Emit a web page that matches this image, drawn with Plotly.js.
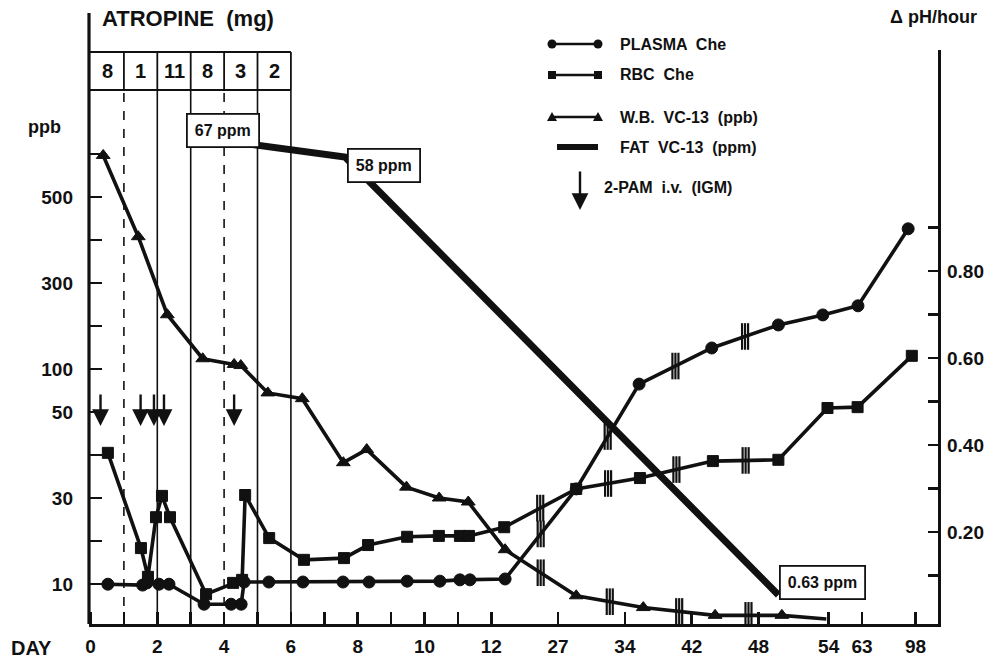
<!DOCTYPE html>
<html><head><meta charset="utf-8">
<script src="https://cdn.plot.ly/plotly-3.0.1.min.js"></script>
<style>html,body{margin:0;padding:0;background:#fff}#chart{width:994px;height:663px}</style>
</head><body><div id="chart"></div>
<script>
// ---------------- Data ----------------
const plasmaDay = [0.52,1.56,1.69,2.05,2.35,3.40,4.21,4.51,4.60,5.34,6.36,7.56,8.34,9.48,10.46,11.06,11.36,15.1,28.9,35.7,43.8,49.7,53.5,61.9,93.2];
const plasmaPH  = [0.080,0.078,0.083,0.080,0.080,0.034,0.034,0.034,0.085,0.085,0.085,0.085,0.085,0.087,0.087,0.090,0.090,0.092,0.299,0.540,0.623,0.676,0.699,0.720,0.897];
const rbcDay = [0.52,1.51,1.72,1.96,2.14,2.38,3.46,4.27,4.54,4.63,5.35,6.39,7.59,8.31,9.48,10.43,11.06,11.33,14.9,28.9,35.8,43.9,49.7,53.9,61.8,95.6];
const rbcPH  = [0.382,0.163,0.097,0.234,0.283,0.234,0.057,0.083,0.090,0.285,0.186,0.136,0.140,0.170,0.189,0.191,0.191,0.191,0.211,0.299,0.324,0.363,0.366,0.485,0.487,0.605];
const wbDay = [0.38,1.43,2.30,3.36,4.30,4.50,5.31,6.34,7.57,8.27,9.46,10.44,11.31,15.1,28.9,36.2,44.1,50.0,53.8];
const wbPpb = [640,395,200,114,106,104.5,68,62,37,40,32,30,28.5,15.5,8.6,7.4,6.7,6.7,6.4];
const fatDay = [4.51,7.62,49.7];
const fatPpm = [67,58,0.63];
const pamDays = [0.3,1.5,1.9,2.2,4.3];
const atropineMg = [8,1,11,8,3,2];
const dayTickLabels = [0,2,4,6,8,10,12,27,34,42,48,54,63,98];
const ppbTickLabels = [10,30,50,100,300,500];
const phTickLabels = [0.20,0.40,0.60,0.80];
const legendNames = ['PLASMA  Che','RBC  Che','W.B.  VC-13  (ppb)','FAT  VC-13  (ppm)','2-PAM  i.v.  (IGM)'];

// ---------------- Broken-axis definitions ----------------
const breakDays = [0,12,27,34,42,48,54,63,98];
const breakPos  = [0,12,14,16,18,20,22.1,23.1,24.7];
const ppbScalePos = [0,2,4,5,7,9];

function interp(v, xs, ys){
  let i = 0;
  if (v <= xs[0]) i = 0;
  else if (v >= xs[xs.length-1]) i = xs.length-2;
  else { while (v > xs[i+1]) i++; }
  const t = (v - xs[i])/(xs[i+1]-xs[i]);
  return ys[i] + t*(ys[i+1]-ys[i]);
}
const dayToPos = d => interp(d, breakDays, breakPos);
const ppbToPos = v => interp(Math.log(v), ppbTickLabels.map(Math.log), ppbScalePos);

// ---------------- Layout geometry helpers ----------------
const L = 89, T = 50, W = 849, H = 574;
const XR = [-0.045, 25.374];
const px2x = px => (px - L)/W;
const py2y = py => (T + H - py)/H;

const FONT = 'Liberation Sans, Arial, Helvetica, sans-serif';
const INK = '#111';

// ---------------- Traces ----------------
const lineW = 3.6;
const mline = {color:INK,width:1};
const traces = [];
traces.push({x: wbDay.map(dayToPos), y: wbPpb.map(ppbToPos), yaxis:'y', mode:'lines+markers',
  line:{color:INK,width:lineW}, marker:{symbol:'triangle-up',size:wbDay.map((d,i)=>i===wbDay.length-1?0:12),color:INK,opacity:1,line:mline}, showlegend:false, hoverinfo:'skip'});
traces.push({x: rbcDay.map(dayToPos), y: rbcPH, yaxis:'y2', mode:'lines+markers',
  line:{color:INK,width:lineW}, marker:{symbol:'square',size:11,color:INK,opacity:1,line:mline}, showlegend:false, hoverinfo:'skip'});
traces.push({x: plasmaDay.map(dayToPos), y: plasmaPH, yaxis:'y2', mode:'lines+markers',
  line:{color:INK,width:lineW}, marker:{symbol:'circle',size:12,color:INK,opacity:1,line:mline}, showlegend:false, hoverinfo:'skip'});
traces.push({x: fatDay.map(dayToPos), y: fatPpm, yaxis:'y3', mode:'lines',
  line:{color:INK,width:7}, showlegend:false, hoverinfo:'skip'});

// break marks (|||) on segments inside the compressed part of the time axis
function breakMarks(days, vals, conv, axis){
  const xs=[], ys=[];
  for (let i=0;i<days.length-1;i++){
    const a = dayToPos(days[i]), b = dayToPos(days[i+1]);
    if (a > 12 && b < 21){
      const m = (a+b)/2, v = (conv(vals[i])+conv(vals[i+1]))/2;
      [-0.09,0,0.09].forEach(o=>{xs.push(m+o); ys.push(v);});
    }
  }
  return {x:xs,y:ys,yaxis:axis,mode:'markers',marker:{symbol:'line-ns',size:19,opacity:1,line:{color:INK,width:2.2}},showlegend:false,hoverinfo:'skip'};
}
traces.push(breakMarks(plasmaDay, plasmaPH, v=>v, 'y2'));
traces.push(breakMarks(rbcDay, rbcPH, v=>v, 'y2'));
traces.push(breakMarks(wbDay, wbPpb, ppbToPos, 'y'));

// ---------------- Axes ----------------
const xTickVals = [], xTickText = [];
for (let d=0; d<=12; d++){ xTickVals.push(d); xTickText.push(d%2===0 ? String(d) : ''); }
dayTickLabels.filter(d=>d>12).forEach(d=>{ xTickVals.push(dayToPos(d)); xTickText.push(String(d)); });

const yTickVals = [], yTickText = [];
for (let k=0;k<=10;k++){
  yTickVals.push(k);
  const j = ppbScalePos.indexOf(k);
  yTickText.push(j>=0 ? String(ppbTickLabels[j]) : '');
}
const y2TickVals = [0.1,0.2,0.3,0.4,0.5,0.6,0.7,0.8,0.9];
const y2TickText = y2TickVals.map(v => phTickLabels.some(p=>Math.abs(p-v)<1e-9) ? v.toFixed(2) : '');

const tickFont = {family:FONT,size:19,color:INK,weight:'bold'};

// ---------------- Shapes ----------------
const shapes = [];
shapes.push({type:'line',xref:'paper',yref:'paper',x0:0,x1:0,y0:0,y1:py2y(13),line:{color:INK,width:3.2}});
const tTop = py2y(52), tBot = py2y(90);
shapes.push({type:'line',xref:'x',yref:'paper',x0:XR[0],x1:6,y0:tTop,y1:tTop,line:{color:INK,width:2}});
shapes.push({type:'line',xref:'x',yref:'paper',x0:XR[0],x1:6,y0:tBot,y1:tBot,line:{color:INK,width:2}});
const dashDays = [1,4];
for (let d=1; d<=6; d++){
  const dashed = dashDays.includes(d);
  shapes.push({type:'line',xref:'x',yref:'paper',x0:d,x1:d,y0:tBot,y1:tTop,line:{color:INK,width:1.8}});
  shapes.push({type:'line',xref:'x',yref:'paper',x0:d,x1:d,y0:0,y1:tBot,line:{color:INK,width:1.6,dash:dashed?'dash':'solid'}});
}
// legend symbols
const legRows = [44,75,117,147];
const lx0 = px2x(552), lx1 = px2x(598);
legRows.forEach((ry,i)=>{
  const yy = py2y(ry);
  shapes.push({type:'line',xref:'paper',yref:'paper',x0:i===3?px2x(557):lx0,x1:lx1,y0:yy,y1:yy,line:{color:INK,width:i===3?6:2.4}});
  if (i<3){
    [lx0,lx1].forEach(xx=>{
      const base = {xref:'paper',yref:'paper',xsizemode:'pixel',ysizemode:'pixel',xanchor:xx,yanchor:yy,fillcolor:INK,line:{color:INK,width:0}};
      if (i===0) shapes.push(Object.assign({type:'circle',x0:-4.5,x1:4.5,y0:-4.5,y1:4.5},base));
      if (i===1) shapes.push(Object.assign({type:'rect',x0:-4,x1:4,y0:-4,y1:4},base));
      if (i===2) shapes.push(Object.assign({type:'path',path:'M -5 -4 L 5 -4 L 0 5 Z'},base));
    });
  }
});

// ---------------- Annotations ----------------
const ann = [];
const txt = (text,x,y,size,opts) => Object.assign({text:text,x:x,y:y,xref:'paper',yref:'paper',showarrow:false,
  xanchor:'center',yanchor:'middle',
  font:{family:FONT,size:size,color:INK,weight:'bold'}},opts||{});
ann.push(txt('ATROPINE  (mg)', px2x(188), py2y(18), 22));
ann.push(txt('ppb', px2x(44), py2y(127), 18));
ann.push(txt('\u0394 pH/hour', px2x(933), py2y(17), 18));
ann.push(txt('DAY', px2x(31), py2y(648), 20));
atropineMg.forEach((m,i)=>{
  ann.push(Object.assign(txt(String(m), i+0.5, py2y(71), 20), {xref:'x'}));
});
legendNames.forEach((n,i)=>{
  const ry = [44,75,117,147,187][i];
  const lx = i===4 ? px2x(602) : px2x(618);
  ann.push(txt(n, lx, py2y(ry), 16, {xanchor:'left'}));
});
ann.push({x:px2x(580),y:py2y(210),xref:'paper',yref:'paper',text:'',showarrow:true,ax:0,ay:-40,
  arrowhead:2,arrowsize:1.4,arrowwidth:2.4,arrowcolor:INK,standoff:0});
pamDays.forEach(d=>{
  ann.push({x:dayToPos(d),y:py2y(426),xref:'x',yref:'paper',text:'',showarrow:true,ax:0,ay:-33,
    arrowhead:2,arrowsize:1.4,arrowwidth:2.4,arrowcolor:INK,standoff:0});
});
const boxPos = [[223,131],[384,165],[822,582]];
fatPpm.forEach((v,i)=>{
  ann.push(txt(v+' ppm', px2x(boxPos[i][0]), py2y(boxPos[i][1]), 16,
    {bordercolor:INK,borderwidth:1.8,borderpad:7,bgcolor:'#fff'}));
});

const layout = {
  width:994, height:663,
  margin:{l:L, r:994-L-W, t:T, b:663-T-H, pad:0},
  paper_bgcolor:'#fff', plot_bgcolor:'#fff',
  showlegend:false,
  xaxis:{range:XR, showgrid:false, zeroline:false, showline:true, linecolor:INK, linewidth:3.2,
    ticks:'inside', ticklen:12, tickwidth:2.5, tickcolor:INK, tickvals:xTickVals, ticktext:xTickText,
    tickfont:tickFont, ticklabelstandoff:3, fixedrange:true},
  yaxis:{range:[(584-624)/43,(584-50)/43], showgrid:false, zeroline:false, showline:false,
    ticks:'inside', ticklen:13, tickwidth:2.5, tickcolor:INK, tickvals:yTickVals, ticktext:yTickText,
    tickfont:tickFont, ticklabelstandoff:15},
  yaxis2:{range:[(619-624)/435,(619-50)/435], overlaying:'y', side:'right', showgrid:false, zeroline:false,
    showline:true, linecolor:INK, linewidth:3.2, ticks:'inside', ticklen:10, tickwidth:2.5, tickcolor:INK,
    tickvals:y2TickVals, ticktext:y2TickText, tickfont:tickFont, ticklabelstandoff:2},
  yaxis3:{type:'log', range:[-0.331,2.243], overlaying:'y', visible:false, showgrid:false, zeroline:false},
  shapes:shapes,
  annotations:ann
};

Plotly.newPlot('chart', traces, layout, {displayModeBar:false, staticPlot:true});
</script>
</body></html>
